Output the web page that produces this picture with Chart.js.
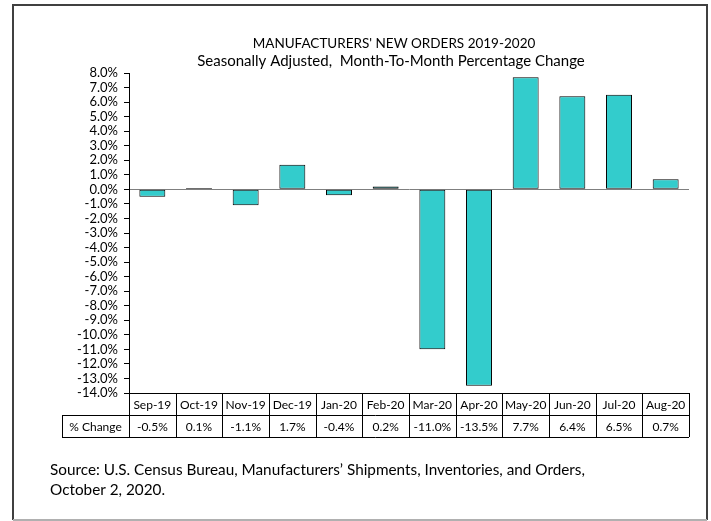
<!DOCTYPE html>
<html>
<head>
<meta charset="utf-8">
<script src="https://cdn.jsdelivr.net/npm/chart.js@4"></script>
<style>
  html, body { margin: 0; padding: 0; background: #fff; }
  #wrap { position: absolute; left: 0; top: 0; width: 711px; height: 521px; }
</style>
</head>
<body>
<div id="wrap"><canvas id="c" width="711" height="521"></canvas></div>
<script>
const categories = ['Sep-19','Oct-19','Nov-19','Dec-19','Jan-20','Feb-20','Mar-20','Apr-20','May-20','Jun-20','Jul-20','Aug-20'];
const pctChange = [-0.5, 0.1, -1.1, 1.7, -0.4, 0.2, -11.0, -13.5, 7.7, 6.4, 6.5, 0.7];
const rowLabel = '% Change';
const titleLines = ["MANUFACTURERS' NEW ORDERS 2019-2020", "Seasonally Adjusted,  Month-To-Month Percentage Change"];
const sourceLines = ["Source: U.S. Census Bureau, Manufacturers\u2019 Shipments, Inventories, and Orders,", "October 2, 2020."];
const yMin = -14, yMax = 8, yStep = 1;

const FONT = 'Lato, "Liberation Sans", sans-serif';

const decor = {
  id: 'decor',
  afterDraw(chart) {
    const ctx = chart.ctx;
    const x = chart.scales.x;
    const area = chart.chartArea;
    ctx.save();
    // frame
    ctx.lineWidth = 2;
    ctx.strokeStyle = '#404040';
    ctx.beginPath();
    ctx.moveTo(13, 520); ctx.lineTo(13, 5); ctx.lineTo(707, 5); ctx.lineTo(707, 520);
    ctx.stroke();
    ctx.strokeStyle = '#b0b0b0';
    ctx.beginPath(); ctx.moveTo(13, 520); ctx.lineTo(707, 520); ctx.stroke();

    // titles
    ctx.fillStyle = '#000';
    ctx.textAlign = 'center';
    ctx.textBaseline = 'middle';
    ctx.font = '13.5px ' + FONT;
    ctx.fillText(titleLines[0], 394, 44);
    ctx.font = '15px ' + FONT;
    ctx.fillText(titleLines[1], 391, 61);

    // data table
    const top = area.bottom, mid = top + 22, bot = top + 44;
    const half = (x.getPixelForValue(1) - x.getPixelForValue(0)) / 2;
    const left = x.getPixelForValue(0) - half;
    const right = x.getPixelForValue(categories.length - 1) + half;
    const labelLeft = 62;
    ctx.strokeStyle = '#000';
    ctx.lineWidth = 1;
    ctx.beginPath();
    ctx.moveTo(left, top + 0.5); ctx.lineTo(right, top + 0.5);
    ctx.moveTo(labelLeft, mid + 0.5); ctx.lineTo(right, mid + 0.5);
    ctx.moveTo(labelLeft, bot + 0.5); ctx.lineTo(right, bot + 0.5);
    ctx.moveTo(labelLeft + 0.5, mid); ctx.lineTo(labelLeft + 0.5, bot);
    for (let i = 0; i <= categories.length; i++) {
      const px = Math.round(left + i * half * 2) + 0.5;
      ctx.moveTo(px, top); ctx.lineTo(px, bot);
    }
    ctx.stroke();
    ctx.font = '12px ' + FONT;
    ctx.fillText(rowLabel, (labelLeft + left) / 2, mid + 12);
    categories.forEach((c, i) => {
      const cx = x.getPixelForValue(i);
      ctx.fillText(c, cx, top + 12);
      ctx.fillText(pctChange[i].toFixed(1) + '%', cx, mid + 12);
    });

    // source
    ctx.textAlign = 'left';
    ctx.font = '15.3px ' + FONT;
    ctx.fillText(sourceLines[0], 50, 470);
    ctx.fillText(sourceLines[1], 50, 490);
    ctx.restore();
  }
};

new Chart(document.getElementById('c'), {
  type: 'bar',
  data: {
    labels: categories,
    datasets: [{
      data: pctChange,
      backgroundColor: '#33CCCC',
      borderColor: '#000',
      borderWidth: 1,
      borderSkipped: false,
      barPercentage: 0.556,
      categoryPercentage: 1.0
    }]
  },
  options: {
    responsive: false,
    animation: false,
    devicePixelRatio: 1,
    layout: { padding: { top: 73, bottom: 128, right: 22, left: 0 } },
    plugins: { legend: { display: false }, tooltip: { enabled: false }, title: { display: false } },
    scales: {
      x: { display: false, offset: true },
      y: {
        min: yMin, max: yMax,
        afterFit(scale) { scale.width = 129; },
        border: { display: true, color: '#000', width: 1 },
        grid: {
          drawOnChartArea: true,
          color: (c) => (c.tick && c.tick.value === 0 ? '#7f7f7f' : 'rgba(0,0,0,0)'),
          tickColor: '#000',
          tickLength: 5,
          lineWidth: 1
        },
        ticks: {
          stepSize: yStep,
          autoSkip: false,
          padding: 6,
          color: '#000',
          font: { family: FONT, size: 13 },
          callback: (v) => v.toFixed(1) + '%'
        }
      }
    }
  },
  plugins: [decor]
});
</script>
</body>
</html>
